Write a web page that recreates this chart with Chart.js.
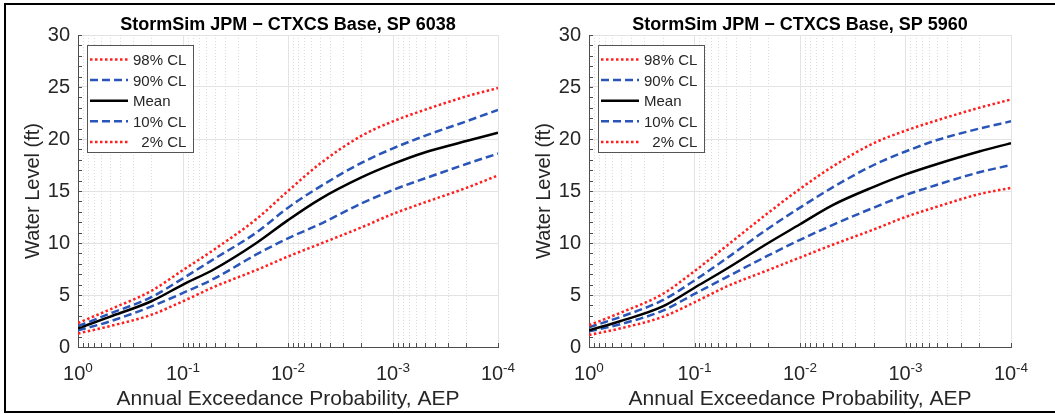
<!DOCTYPE html>
<html>
<head>
<meta charset="utf-8">
<script src="https://cdn.jsdelivr.net/npm/chart.js@4.4.1/dist/chart.umd.min.js"></script>
<style>
  html, body { margin: 0; padding: 0; background: #fff; overflow: hidden; }
  body { width: 1055px; height: 414px; position: relative; }
  .frame { position: absolute; left: 4px; top: 3px; width: 1070px; height: 406px; border: 2px solid #000; pointer-events: none; z-index: 2; }
  #chartA { position: absolute; left: 0; top: 0; }
  #chartB { position: absolute; left: 511px; top: 0; }
</style>
</head>
<body>
<div class="frame"></div>
<canvas id="chartA" width="530" height="414"></canvas>
<canvas id="chartB" width="544" height="414"></canvas>
<script>
// AEP values the curves are sampled at
const aep = [1, 0.5, 0.2, 0.1, 0.05, 0.02, 0.01, 0.005, 0.002, 0.001, 0.0005, 0.0002, 0.0001];
const decadeTicks = [1, 0.1, 0.01, 0.001, 0.0001];
const decadeExponents = ['0', '-1', '-2', '-3', '-4'];
const seriesNames = ['98% CL', '90% CL', 'Mean', '10% CL', '  2% CL'];

// SP 6038 (left panel)
const sp6038Cl98 = [2.3, 3.6, 5.4, 7.4, 9.4, 12.3, 15.0, 17.6, 20.3, 21.7, 22.8, 24.1, 24.9];
const sp6038Cl90 = [2.0, 3.2, 4.8, 6.6, 8.5, 11.0, 13.4, 15.4, 17.7, 19.1, 20.3, 21.7, 22.8];
const sp6038Mean = [1.8, 2.9, 4.4, 6.0, 7.5, 10.0, 12.2, 14.2, 16.3, 17.6, 18.7, 19.8, 20.6];
const sp6038Cl10 = [1.6, 2.45, 3.9, 5.2, 6.6, 8.9, 10.45, 11.8, 13.8, 15.1, 16.2, 17.6, 18.6];
const sp6038Cl02 = [1.3, 2.0, 3.1, 4.4, 5.8, 7.4, 8.7, 9.9, 11.5, 12.8, 13.9, 15.3, 16.5];

// SP 5960 (right panel)
const sp5960Cl98 = [2.1, 3.3, 5.1, 7.3, 9.7, 12.9, 15.2, 17.3, 19.6, 20.8, 21.8, 23.0, 23.8];
const sp5960Cl90 = [1.9, 2.9, 4.5, 6.4, 8.5, 11.4, 13.4, 15.3, 17.5, 18.8, 19.9, 21.0, 21.7];
const sp5960Mean = [1.6, 2.5, 3.9, 5.7, 7.5, 10.0, 11.8, 13.6, 15.4, 16.6, 17.6, 18.8, 19.6];
const sp5960Cl10 = [1.5, 2.2, 3.5, 5.1, 6.7, 8.8, 10.3, 11.7, 13.4, 14.6, 15.6, 16.8, 17.5];
const sp5960Cl02 = [1.15, 1.8, 2.9, 4.3, 5.8, 7.4, 8.6, 9.8, 11.3, 12.5, 13.5, 14.7, 15.3];

const FONT = '"Liberation Sans", Arial, Helvetica, sans-serif';
const AXIS_COLOR = '#4d4d4d';
const TEXT_COLOR = '#262626';

const lineStyles = [
    { color: '#ff1f1f', width: 2.5, dash: [2.5, 2.5] },
    { color: '#2a55b8', width: 2.5, dash: [8, 4] },
    { color: '#000000', width: 2.5, dash: [] },
    { color: '#2a55b8', width: 2.5, dash: [8, 4] },
    { color: '#ff1f1f', width: 2.5, dash: [2.5, 2.5] }
];

function buildDatasets(seriesList) {
    return seriesList.map((vals, i) => ({
        label: seriesNames[i],
        data: aep.map((p, j) => ({ x: p, y: vals[j] })),
        borderColor: lineStyles[i].color,
        borderWidth: lineStyles[i].width,
        borderDash: lineStyles[i].dash,
        borderCapStyle: 'butt',
        pointRadius: 0,
        cubicInterpolationMode: 'monotone',
        fill: false
    }));
}

// Draws MATLAB-like decorations: minor grid, inward ticks, superscript labels, legend, title
const decorPlugin = {
    id: 'decor',
    beforeDatasetsDraw(chart) {
        const { ctx, chartArea: area, scales: { x } } = chart;
        ctx.save();
        ctx.strokeStyle = '#dcdcdc';
        ctx.lineWidth = 1;
        ctx.setLineDash([1, 2]);
        for (let n = 0; n >= -4; n--) {
            for (let k = 2; k <= 9; k++) {
                const v = k * Math.pow(10, n - 1);
                if (v < 1e-4 || v > 1) continue;
                const px = Math.round(x.getPixelForValue(v)) + 0.5;
                ctx.beginPath();
                ctx.moveTo(px, area.top);
                ctx.lineTo(px, area.bottom);
                ctx.stroke();
            }
        }
        ctx.restore();
    },
    afterDraw(chart) {
        const { ctx, chartArea: area, scales: { x, y } } = chart;
        ctx.save();

        // inward ticks
        ctx.strokeStyle = AXIS_COLOR;
        ctx.lineWidth = 1;
        for (let v = 0; v <= 30; v++) {
            const py = Math.round(y.getPixelForValue(v)) + 0.5;
            ctx.beginPath();
            ctx.moveTo(area.left, py);
            ctx.lineTo(area.left + 4, py);
            ctx.stroke();
        }
        for (let n = 0; n >= -4; n--) {
            for (let k = 1; k <= 9; k++) {
                const v = k * Math.pow(10, n);
                if (v < 1e-4 || v > 1) continue;
                const px = Math.round(x.getPixelForValue(v)) + 0.5;
                ctx.beginPath();
                ctx.moveTo(px, area.bottom);
                ctx.lineTo(px, area.bottom - 4);
                ctx.stroke();
            }
        }

        // x tick labels 10^n
        ctx.fillStyle = TEXT_COLOR;
        ctx.textBaseline = 'alphabetic';
        ctx.textAlign = 'left';
        decadeTicks.forEach((v, i) => {
            const px = x.getPixelForValue(v);
            ctx.font = '20px ' + FONT;
            const wBase = ctx.measureText('10').width;
            ctx.font = '13.5px ' + FONT;
            const wExp = ctx.measureText(decadeExponents[i]).width;
            const start = px - (wBase + wExp) / 2;
            ctx.font = '20px ' + FONT;
            ctx.fillText('10', start, area.bottom + 33);
            ctx.font = '13.5px ' + FONT;
            ctx.fillText(decadeExponents[i], start + wBase, area.bottom + 25);
        });

        // title
        ctx.font = 'bold 18px ' + FONT;
        ctx.textAlign = 'center';
        ctx.fillStyle = '#000';
        ctx.fillText(chart.options.plugins.panelTitle.text, (area.left + area.right) / 2, 30);

        // legend box
        const bx = area.left + 9, by = area.top + 10, bw = 106, bh = 107;
        ctx.fillStyle = '#fff';
        ctx.fillRect(bx, by, bw, bh);
        ctx.strokeStyle = '#555';
        ctx.lineWidth = 1;
        ctx.strokeRect(bx + 0.5, by + 0.5, bw, bh);
        ctx.textAlign = 'left';
        ctx.font = '15px ' + FONT;
        chart.data.datasets.forEach((ds, i) => {
            const cy = by + 14.5 + i * 20.6;
            ctx.save();
            ctx.strokeStyle = ds.borderColor;
            ctx.lineWidth = ds.borderWidth;
            ctx.setLineDash(ds.borderDash);
            ctx.lineCap = 'butt';
            ctx.beginPath();
            ctx.moveTo(bx + 3, cy);
            ctx.lineTo(bx + 41, cy);
            ctx.stroke();
            ctx.restore();
            ctx.fillStyle = TEXT_COLOR;
            ctx.fillText(ds.label, bx + 46, cy + 5.5);
        });
        ctx.restore();
    }
};

function makeChart(canvasId, title, seriesList, padRight) {
    return new Chart(document.getElementById(canvasId), {
        type: 'line',
        data: { datasets: buildDatasets(seriesList) },
        options: {
            responsive: false,
            animation: false,
            layout: { padding: { left: 0, top: 35, right: padRight, bottom: 0 } },
            plugins: {
                legend: { display: false },
                title: { display: false },
                tooltip: { enabled: false },
                panelTitle: { text: title }
            },
            scales: {
                x: {
                    type: 'logarithmic',
                    min: 1e-4,
                    max: 1,
                    reverse: true,
                    afterBuildTicks: (s) => { s.ticks = decadeTicks.map(v => ({ value: v, major: true })); },
                    afterFit: (s) => { s.height = 67; },
                    ticks: { display: false },
                    grid: { color: '#e3e3e3', drawTicks: false },
                    border: { color: AXIS_COLOR, width: 1 },
                    title: {
                        display: true,
                        text: 'Annual Exceedance Probability, AEP',
                        color: TEXT_COLOR,
                        font: { family: FONT, size: 21 },
                        padding: { top: 0, bottom: 2 }
                    }
                },
                y: {
                    min: 0,
                    max: 30,
                    afterFit: (s) => { s.width = 78; },
                    ticks: { stepSize: 5, color: TEXT_COLOR, font: { family: FONT, size: 20 }, padding: 8 },
                    grid: { color: '#e3e3e3', drawTicks: false },
                    border: { color: AXIS_COLOR, width: 1 },
                    title: {
                        display: true,
                        text: 'Water Level (ft)',
                        color: TEXT_COLOR,
                        font: { family: FONT, size: 20 },
                        padding: { top: 21, bottom: 0 }
                    }
                }
            }
        },
        plugins: [decorPlugin]
    });
}

makeChart('chartA', 'StormSim JPM \u2212 CTXCS Base, SP 6038',
    [sp6038Cl98, sp6038Cl90, sp6038Mean, sp6038Cl10, sp6038Cl02], 32);
makeChart('chartB', 'StormSim JPM \u2212 CTXCS Base, SP 5960',
    [sp5960Cl98, sp5960Cl90, sp5960Mean, sp5960Cl10, sp5960Cl02], 44);
</script>
</body>
</html>
